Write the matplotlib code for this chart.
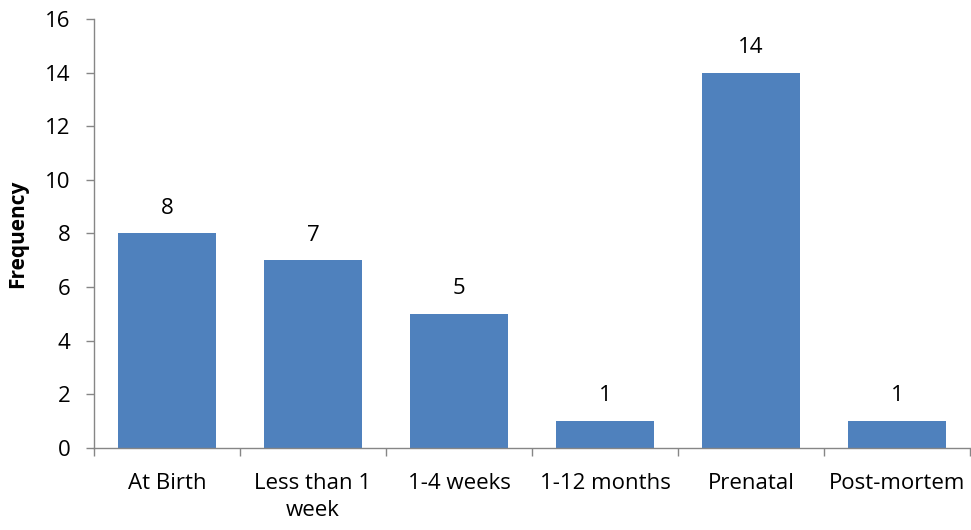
import matplotlib
matplotlib.use("Agg")
import matplotlib.pyplot as plt
import numpy as np

plt.rcParams["font.family"] = ["Open Sans", "DejaVu Sans"]

categories = ["At Birth", "Less than 1\nweek", "1-4 weeks", "1-12 months",
              "Prenatal", "Post-mortem"]
frequency = [8, 7, 5, 1, 14, 1]

BAR = "#4F81BD"
AXIS = "#868686"
FS = 16

fig = plt.figure(figsize=(9.71, 5.30), dpi=100)
ax = fig.add_axes([0.0968, 0.1547, 0.9022, 0.8095])

x = np.arange(len(categories))
ax.bar(x, frequency, width=0.665, color=BAR, zorder=2)

for xi, v in zip(x, frequency):
    ax.text(xi, v + 0.55, str(v), ha="center", va="bottom", fontsize=FS)

ax.set_xlim(-0.5, len(categories) - 0.5)
ax.set_ylim(0, 16)
ax.set_yticks(range(0, 17, 2))
ax.set_xticks(x)
ax.set_xticklabels(categories, fontsize=FS, linespacing=1.4)
ax.tick_params(axis="x", length=0, pad=18)
ax.set_xticks(np.arange(-0.5, len(categories), 1), minor=True)
ax.tick_params(axis="x", which="minor", length=6, color=AXIS, width=1)
ax.tick_params(axis="y", length=6, color=AXIS, width=1, labelsize=FS, pad=11)

for side in ("top", "right"):
    ax.spines[side].set_visible(False)
for side in ("left", "bottom"):
    ax.spines[side].set_color(AXIS)
    ax.spines[side].set_linewidth(1)

ax.set_ylabel("Frequency", fontsize=FS - 1, fontweight="bold")
ax.yaxis.set_label_coords(-0.075, 0.5)

fig.savefig("out.png", dpi=100)
